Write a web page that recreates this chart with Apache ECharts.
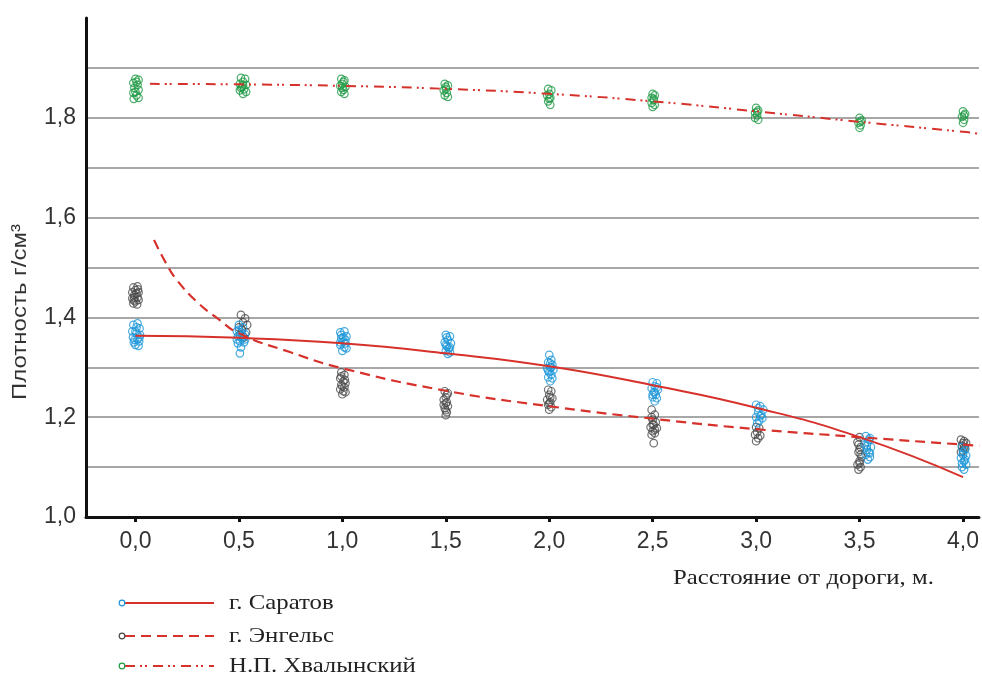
<!DOCTYPE html>
<html>
<head>
<meta charset="utf-8">
<script src="https://cdn.jsdelivr.net/npm/echarts@6/dist/echarts.min.js"></script>
<style>
html,body{margin:0;padding:0;background:#fff;}
#chart{width:982px;height:675px;}
</style>
</head>
<body>
<div id="chart"></div>
<script>
// ---- tick values / labels ----
const xTicks = [0, 0.5, 1, 1.5, 2, 2.5, 3, 3.5, 4];
const yLabelTicks = [1.0, 1.2, 1.4, 1.6, 1.8];

const seriesNames = ['г. Саратов', 'г. Энгельс', 'Н.П. Хвалынский'];

// ---- measured points (distance, density) ----
const saratovPoints = [
  [-0.01,1.385],[0.01,1.388],[0.02,1.378],[-0.015,1.372],[0.005,1.368],[0.022,1.365],[-0.012,1.36],[0.01,1.356],[-0.008,1.35],[0.018,1.352],[0.0,1.345],[0.015,1.343],
  [0.005,1.38],[-0.005,1.355],[0.02,1.36],[0.0,1.372],
  [0.50,1.385],[0.52,1.38],[0.49,1.372],[0.51,1.37],[0.53,1.366],[0.495,1.362],[0.515,1.358],[0.505,1.352],[0.525,1.35],[0.49,1.356],[0.51,1.34],[0.505,1.328],
  [0.5,1.375],[0.52,1.362],[0.495,1.348],[0.53,1.356],
  [0.99,1.37],[1.01,1.372],[1.02,1.362],[0.995,1.358],[1.005,1.352],[1.015,1.348],[0.99,1.345],[1.01,1.34],[1.02,1.338],[1.0,1.333],[0.995,1.365],
  [1.005,1.36],[1.015,1.355],[0.99,1.35],
  [1.5,1.365],[1.52,1.362],[1.51,1.355],[1.495,1.35],[1.525,1.348],[1.505,1.342],[1.515,1.338],[1.5,1.333],[1.52,1.33],[1.51,1.327],
  [1.5,1.345],[1.52,1.34],[1.505,1.36],
  [2.0,1.325],[2.01,1.315],[1.995,1.31],[2.015,1.305],[2.005,1.3],[1.99,1.298],[2.02,1.295],[2.0,1.29],[2.01,1.285],[1.995,1.28],[2.015,1.278],[2.005,1.272],
  [2.005,1.308],[1.995,1.293],[2.01,1.3],
  [2.5,1.27],[2.52,1.268],[2.51,1.262],[2.495,1.258],[2.525,1.255],[2.505,1.25],[2.515,1.245],[2.5,1.24],[2.52,1.238],[2.51,1.232],
  [2.51,1.25],[2.5,1.245],[2.52,1.26],
  [3.0,1.225],[3.02,1.222],[3.035,1.215],[3.01,1.21],[3.025,1.205],[3.0,1.2],[3.03,1.198],[3.015,1.193],[3.005,1.188],
  [3.02,1.202],[3.01,1.218],
  [3.53,1.162],[3.55,1.158],[3.54,1.15],[3.525,1.145],[3.555,1.14],[3.535,1.135],[3.545,1.13],[3.53,1.125],[3.55,1.12],[3.54,1.115],
  [3.545,1.155],[3.535,1.142],[3.55,1.128],
  [3.995,1.14],[4.01,1.135],[4.0,1.13],[4.015,1.123],[3.99,1.118],[4.005,1.112],[4.015,1.105],[3.995,1.1],[4.005,1.095],
  [4.0,1.125],[4.01,1.115],[3.995,1.108]
];
const engelsPoints = [
  [-0.01,1.46],[0.01,1.462],[0.0,1.455],[-0.015,1.45],[0.015,1.45],[-0.005,1.445],[0.01,1.44],[-0.015,1.438],[0.015,1.435],[0.0,1.432],[-0.01,1.428],[0.008,1.426],
  [0.005,1.448],[-0.005,1.44],[0.012,1.456],[-0.008,1.434],
  [0.51,1.405],[0.53,1.398],[0.52,1.39],[0.54,1.385],[0.5,1.38],[0.515,1.375],[0.535,1.37],[0.505,1.365],[0.525,1.36],
  [0.995,1.29],[1.01,1.285],[0.99,1.278],[1.005,1.272],[1.015,1.268],[0.995,1.265],[1.01,1.26],[0.99,1.256],[1.005,1.252],[1.015,1.25],[1.0,1.246],
  [1.0,1.262],[1.012,1.275],[0.995,1.282],
  [1.495,1.252],[1.51,1.248],[1.5,1.24],[1.49,1.235],[1.505,1.23],[1.51,1.222],[1.495,1.218],[1.505,1.21],[1.5,1.204],[1.49,1.225],
  [1.5,1.228],[1.505,1.245],[1.5,1.214],
  [1.995,1.255],[2.01,1.252],[2.0,1.245],[2.015,1.238],[1.99,1.235],[2.005,1.23],[1.995,1.225],[2.01,1.22],[2.0,1.215],
  [2.005,1.24],[2.0,1.228],
  [2.495,1.215],[2.51,1.205],[2.5,1.195],[2.515,1.19],[2.505,1.185],[2.49,1.18],[2.52,1.178],[2.5,1.172],[2.51,1.168],[2.495,1.165],[2.505,1.148],
  [2.5,1.185],[2.51,1.175],[2.495,1.2],
  [3.0,1.18],[3.015,1.178],[3.005,1.17],[2.995,1.165],[3.02,1.163],[3.01,1.158],[3.0,1.152],
  [3.5,1.16],[3.49,1.15],[3.505,1.14],[3.495,1.13],[3.51,1.12],[3.5,1.112],[3.49,1.105],[3.505,1.1],[3.495,1.095],
  [3.5,1.135],[3.505,1.125],[3.495,1.145],[3.5,1.108],
  [3.99,1.155],[4.005,1.152],[4.015,1.148],[3.995,1.143],[4.01,1.138],[4.0,1.133],[3.99,1.13],
  [4.0,1.148],[4.005,1.14]
];
const khvalynskyPoints = [
  [0.0,1.878],[0.015,1.876],[-0.01,1.87],[0.01,1.866],[-0.005,1.86],[0.015,1.856],[-0.01,1.85],[0.005,1.845],[0.015,1.84],[-0.008,1.838],
  [0.005,1.872],[0.0,1.852],
  [0.51,1.88],[0.53,1.878],[0.52,1.872],[0.505,1.868],[0.535,1.866],[0.515,1.862],[0.525,1.857],[0.505,1.855],[0.535,1.852],[0.52,1.848],
  [0.52,1.865],[0.51,1.86],
  [0.995,1.878],[1.01,1.875],[1.0,1.868],[0.99,1.864],[1.015,1.862],[1.005,1.856],[0.995,1.852],[1.01,1.848],
  [1.0,1.86],[1.005,1.872],
  [1.495,1.868],[1.51,1.865],[1.5,1.858],[1.49,1.855],[1.505,1.85],[1.495,1.845],[1.51,1.842],
  [1.5,1.862],
  [1.995,1.858],[2.01,1.855],[2.0,1.848],[1.99,1.845],[2.005,1.84],[1.995,1.833],[2.005,1.826],
  [2.0,1.838],
  [2.5,1.848],[2.51,1.845],[2.495,1.84],[2.505,1.835],[2.495,1.83],[2.51,1.826],[2.5,1.822],
  [2.505,1.838],
  [3.0,1.82],[3.01,1.815],[2.995,1.81],[3.005,1.805],[2.995,1.8],[3.01,1.796],
  [3.005,1.812],
  [3.5,1.8],[3.51,1.795],[3.495,1.79],[3.505,1.785],[3.5,1.78],
  [3.505,1.792],
  [4.0,1.813],[4.01,1.808],[3.995,1.802],[4.005,1.796],[4.0,1.79],
  [4.005,1.805]
];

// ---- fitted trend lines ----
const saratovTrend = [
  [0,1.363],[0.5,1.359],[1.0,1.348],[1.5,1.328],[2.0,1.302],[2.5,1.264],[3.0,1.219],[3.5,1.160],[4.0,1.080]
];
const engelsTrend = [
  [0.09,1.555],[0.15,1.507],[0.2,1.475],[0.3,1.430],[0.4,1.397],[0.5,1.368],[0.75,1.330],[1.0,1.298],
  [1.5,1.253],[2.0,1.222],[2.5,1.197],[3.0,1.176],[3.5,1.160],[4.0,1.145],[4.08,1.143]
];
const khvalynskyTrend = [
  [0.07,1.868],[0.5,1.867],[1.0,1.864],[1.5,1.858],[2.0,1.848],[2.5,1.833],[3.0,1.813],[3.5,1.792],[4.0,1.772],[4.08,1.768]
];

const RED = '#d7312b';
const BLUE = '#1b96d8';
const GRAY = '#4a4a4a';
const GREEN = '#1f9a45';
const DASH_DOT_DOT = [10, 5, 2, 3, 2, 6];
const SERIF = '"Liberation Serif", "Times New Roman", serif';
const SANS = '"Liberation Sans", Arial, sans-serif';

const fmt = v => v.toFixed(1).replace('.', ',');

const chart = echarts.init(document.getElementById('chart'), null, {renderer: 'canvas'});

function scatter(name, data, color) {
  return {
    name, type: 'scatter', data, symbol: 'circle', symbolSize: 7.5,
    itemStyle: {color: 'rgba(255,255,255,0)', borderColor: color, borderWidth: 1.2},
    emphasis: {disabled: true}, silent: true, z: 2
  };
}
function trend(name, data, type, width) {
  return {
    name, type: 'line', data, showSymbol: false, smooth: true,
    lineStyle: {color: RED, width: width, type: type}, silent: true, z: 3
  };
}

// legend built as graphics
const legendRows = [
  {name: seriesNames[0], color: BLUE, dash: null, y: 603},
  {name: seriesNames[1], color: GRAY, dash: [10, 6], y: 636},
  {name: seriesNames[2], color: GREEN, dash: DASH_DOT_DOT, y: 666}
];
const legendGraphics = [];
legendRows.forEach(r => {
  legendGraphics.push({
    type: 'line', shape: {x1: 125, y1: r.y, x2: 214, y2: r.y},
    style: {stroke: RED, lineWidth: 2, lineDash: r.dash || null}
  });
  legendGraphics.push({
    type: 'circle', shape: {cx: 122, cy: r.y, r: 2.8},
    style: {fill: '#fff', stroke: r.color, lineWidth: 1.2}
  });
  legendGraphics.push({
    type: 'text', x: 229, y: r.y, scaleX: 1.18,
    style: {text: r.name, font: '21px ' + SERIF, fill: '#222', verticalAlign: 'middle'}
  });
});

const option = {
  animation: false,
  backgroundColor: '#fff',
  grid: {left: 86, right: 0, top: 18, bottom: 158, containLabel: false},
  xAxis: {
    type: 'value', min: -0.239, max: 4.077,
    axisLine: {show: true, onZero: false, lineStyle: {color: '#111', width: 3}},
    axisTick: {show: true, customValues: xTicks, length: 5, lineStyle: {color: '#111', width: 3}},
    axisLabel: {customValues: xTicks, formatter: fmt, fontSize: 23, color: '#333',
                fontFamily: SANS, margin: 13},
    splitLine: {show: false}
  },
  yAxis: {
    type: 'value', min: 1.0, max: 2.0, interval: 0.1,
    axisLine: {show: true, onZero: false, lineStyle: {color: '#111', width: 3}},
    axisTick: {show: false},
    axisLabel: {customValues: yLabelTicks, formatter: fmt, fontSize: 23, color: '#333',
                fontFamily: SANS, margin: 10},
    splitLine: {show: true, showMinLine: false, showMaxLine: false, lineStyle: {color: '#8a8a8a', width: 1.5}}
  },
  graphic: [
    {
      type: 'text', x: 20, y: 312, rotation: Math.PI / 2, scaleX: 1.2,
      style: {text: 'Плотность г/см³', font: '20px ' + SANS, fill: '#333',
              align: 'center', verticalAlign: 'middle'}
    },
    {
      type: 'text', x: 673, y: 578, scaleX: 1.18,
      style: {text: 'Расстояние от дороги, м.', font: '21px ' + SERIF, fill: '#222',
              verticalAlign: 'middle'}
    }
  ].concat(legendGraphics),
  series: [
    scatter(seriesNames[2], khvalynskyPoints, GREEN),
    scatter(seriesNames[1], engelsPoints, GRAY),
    scatter(seriesNames[0], saratovPoints, BLUE),
    trend(seriesNames[2], khvalynskyTrend, DASH_DOT_DOT, 2),
    trend(seriesNames[1], engelsTrend, [10, 6], 2.2),
    trend(seriesNames[0], saratovTrend, 'solid', 2)
  ]
};
chart.setOption(option);
</script>
</body>
</html>
